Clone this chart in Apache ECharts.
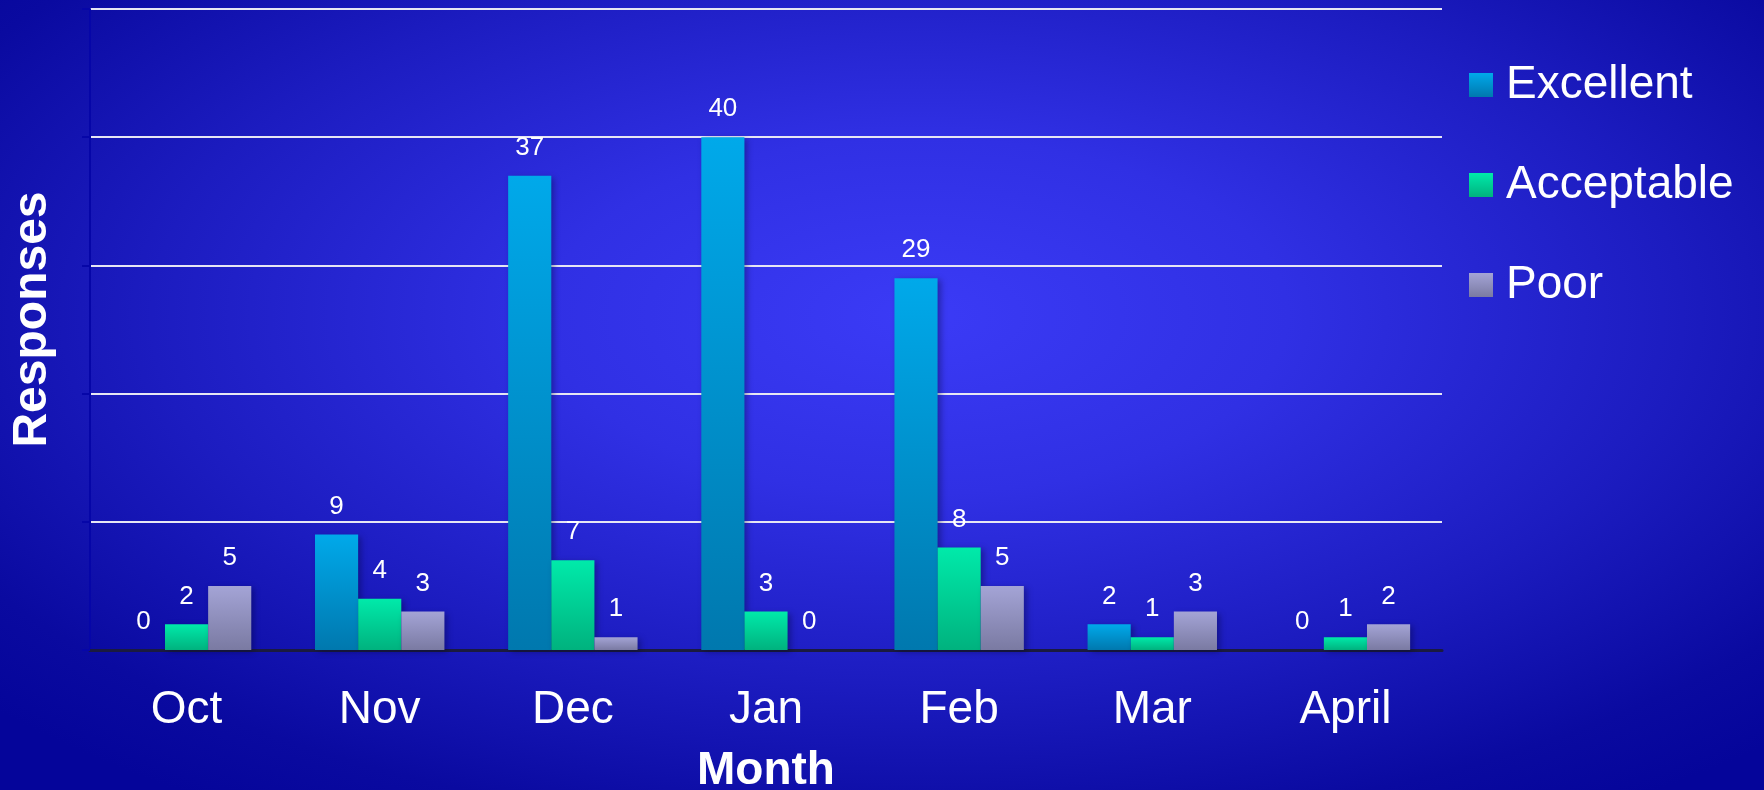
<!DOCTYPE html>
<html>
<head>
<meta charset="utf-8">
<script src="https://cdn.jsdelivr.net/npm/echarts@6/dist/echarts.min.js"></script>
<style>
  html, body { margin: 0; padding: 0; }
  body {
    background: radial-gradient(ellipse 70% 75% at 52% 40%, #3b3bf6 0%, #3030e4 30%, #1c1cc0 62%, #0a0aa0 88%, #05059a 100%);
  }
  #chartmain { width: 1764px; height: 790px; }
</style>
</head>
<body>
<div id="chartmain"></div>
<script>
// 数据
var months = ['Oct', 'Nov', 'Dec', 'Jan', 'Feb', 'Mar', 'April'];
var excellent = [0, 9, 37, 40, 29, 2, 0];
var acceptable = [2, 4, 7, 3, 8, 1, 1];
var poor = [5, 3, 1, 0, 5, 3, 2];

var font = 'Liberation Sans, Arial, sans-serif';

function grad(top, bottom) {
    return new echarts.graphic.LinearGradient(0, 0, 0, 1, [
        { offset: 0, color: top },
        { offset: 1, color: bottom }
    ]);
}

function barSeries(name, data, top, bottom) {
    return {
        name: name,
        type: 'bar',
        data: data,
        barGap: '0%',
        barCategoryGap: '33%',
        itemStyle: {
            color: grad(top, bottom),
            shadowColor: 'rgba(0,0,40,0.35)',
            shadowBlur: 6,
            shadowOffsetX: 3,
            shadowOffsetY: 2
        },
        label: {
            show: true,
            position: 'top',
            distance: 15,
            color: '#ffffff',
            fontFamily: font,
            fontSize: 26
        }
    };
}

var option = {
    backgroundColor: 'transparent',
    animation: false,
    grid: { left: 90, right: 322, top: 9, bottom: 140, outerBoundsMode: 'none' },
    legend: {
        orient: 'vertical',
        left: 1464,
        top: 52,
        itemWidth: 24,
        itemHeight: 24,
        itemGap: 44,
        icon: 'rect',
        data: ['Excellent', 'Acceptable', 'Poor'],
        textStyle: {
            color: '#ffffff',
            fontFamily: font,
            fontSize: 46,
            lineHeight: 56,
            padding: [0, 0, 0, 8]
        }
    },
    xAxis: {
        type: 'category',
        data: months,
        name: 'Month',
        nameLocation: 'middle',
        nameGap: 98,
        nameTextStyle: { color: '#ffffff', fontFamily: font, fontSize: 46, fontWeight: 'bold' },
        axisLine: { lineStyle: { color: '#1a1a40', width: 3 } },
        axisTick: { show: false },
        axisLabel: { color: '#ffffff', fontFamily: font, fontSize: 46, margin: 37 }
    },
    yAxis: {
        type: 'value',
        min: 0,
        max: 50,
        interval: 10,
        name: 'Responses',
        nameLocation: 'middle',
        nameGap: 33,
        nameTextStyle: { color: '#ffffff', fontFamily: font, fontSize: 48, fontWeight: 'bold', padding: [0, 0, 0, 20] },
        axisLine: { show: true, lineStyle: { color: '#0606a8', width: 2 } },
        axisTick: { show: true, length: 8, lineStyle: { color: '#0606a8', width: 2 } },
        axisLabel: { show: false },
        splitLine: { lineStyle: { color: '#e6e6f4', width: 2 } }
    },
    series: [
        barSeries('Excellent', excellent, '#00a9ea', '#0078ae'),
        barSeries('Acceptable', acceptable, '#00eaaa', '#00b27e'),
        barSeries('Poor', poor, '#a4a4d6', '#7a7aa2')
    ]
};

var myChart = echarts.init(document.getElementById('chartmain'));
myChart.setOption(option);
</script>
</body>
</html>
